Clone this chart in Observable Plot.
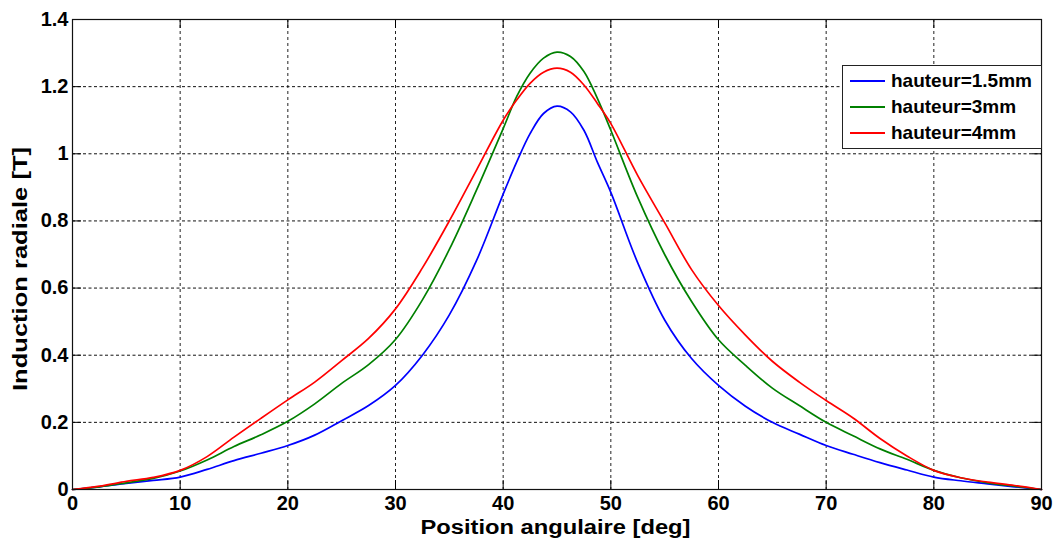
<!DOCTYPE html>
<html>
<head>
<meta charset="utf-8">
<script src="https://cdn.jsdelivr.net/npm/d3@7"></script>
<script src="https://cdn.jsdelivr.net/npm/@observablehq/plot@0.6"></script>
<style>
  body { margin: 0; background: #fff; }
  #wrap { position: relative; width: 1057px; height: 542px; font-family: "Liberation Sans", Arial, sans-serif; }
  #legend { position: absolute; left: 842px; top: 65px; width: 200px; height: 84px; background: #fff;
            border: 1px solid #222; box-sizing: border-box; }
  .row { position: absolute; left: 0; height: 26px; display: flex; align-items: center; }
  .swatch { width: 35px; height: 0; border-top: 2px solid; margin-left: 7px; margin-right: 6px; }
  .lab { font-weight: bold; font-size: 19px; color: #000; white-space: nowrap; }
</style>
</head>
<body>
<div id="wrap"></div>
<script>
// ---- data ----
const angles = [0, 2.5, 5, 7.5, 10, 12.5, 15, 17.5, 20, 22.5, 25, 27.5, 30, 32.5, 35, 37.5, 40, 41.25, 42.5, 43.75, 45,
                46.25, 47.5, 48.75, 50, 52.5, 55, 57.5, 60, 62.5, 65, 67.5, 70, 72.5, 75, 77.5, 80, 82.5, 85, 87.5, 90];
const h15 = [0, 0.008, 0.018, 0.027, 0.037, 0.060, 0.086, 0.108, 0.131, 0.162, 0.205, 0.250, 0.310, 0.400, 0.520, 0.680, 0.880, 0.975, 1.060, 1.120, 1.142,
             1.125, 1.070, 0.975, 0.885, 0.675, 0.505, 0.390, 0.310, 0.248, 0.200, 0.165, 0.131, 0.105, 0.080, 0.058, 0.037, 0.026, 0.017, 0.008, 0];
const h3  = [0, 0.008, 0.020, 0.033, 0.055, 0.088, 0.128, 0.163, 0.203, 0.255, 0.316, 0.372, 0.447, 0.565, 0.715, 0.890, 1.075, 1.170, 1.240, 1.285, 1.303,
             1.290, 1.245, 1.165, 1.070, 0.870, 0.700, 0.560, 0.446, 0.370, 0.302, 0.250, 0.200, 0.160, 0.121, 0.090, 0.057, 0.035, 0.020, 0.010, 0];
const h4  = [0, 0.010, 0.024, 0.036, 0.057, 0.098, 0.156, 0.212, 0.267, 0.320, 0.384, 0.450, 0.538, 0.660, 0.800, 0.950, 1.100, 1.160, 1.210, 1.243, 1.255,
             1.243, 1.205, 1.150, 1.090, 0.935, 0.795, 0.655, 0.548, 0.460, 0.382, 0.320, 0.265, 0.213, 0.152, 0.100, 0.057, 0.035, 0.022, 0.012, 0];
const seriesNames = ["hauteur=1.5mm", "hauteur=3mm", "hauteur=4mm"];
const seriesColors = ["#0000ff", "#008000", "#ff0000"];
const xTicks = [0, 10, 20, 30, 40, 50, 60, 70, 80, 90];
const yTicks = [0, 0.2, 0.4, 0.6, 0.8, 1, 1.2, 1.4];
const yTickLabels = ["0", "0.2", "0.4", "0.6", "0.8", "1", "1.2", "1.4"];
const xLabel = "Position angulaire [deg]";
const yLabel = "Induction radiale [T]";

// ---- build table ----
const allSeries = [h15, h3, h4];
const rows = [];
allSeries.forEach((vals, s) => vals.forEach((v, i) => rows.push({x: angles[i], y: v, s: seriesNames[s]})));

const W = 1057, H = 542, mL = 72, mR = 16, mT = 19, mB = 53;
const pw = W - mL - mR, ph = H - mT - mB;
const tk = 9;

const svg = Plot.plot({
  width: W, height: H,
  marginLeft: mL, marginRight: mR, marginTop: mT, marginBottom: mB,
  style: {fontFamily: "'Liberation Sans', Arial, sans-serif", fontSize: "20px", fontWeight: "bold", color: "#000", background: "#fff", overflow: "visible"},
  x: {domain: [0, 90]},
  y: {domain: [0, 1.4]},
  color: {domain: seriesNames, range: seriesColors},
  marks: [
    Plot.gridX(xTicks.slice(1, -1), {stroke: "#222", strokeOpacity: 1, strokeWidth: 1, strokeDasharray: "3,3"}),
    Plot.gridY(yTicks.slice(1, -1), {stroke: "#111", strokeOpacity: 1, strokeWidth: 1, strokeDasharray: "3,2.5"}),
    Plot.tickX(xTicks, {x: d => d, insetTop: ph - tk, stroke: "#000"}),
    Plot.tickX(xTicks, {x: d => d, insetBottom: ph - tk, stroke: "#000"}),
    Plot.tickY(yTicks, {y: d => d, insetRight: pw - tk, stroke: "#000"}),
    Plot.tickY(yTicks, {y: d => d, insetLeft: pw - tk, stroke: "#000"}),
    Plot.line(rows, {x: "x", y: "y", z: "s", stroke: "s", strokeWidth: 1.7, curve: "catmull-rom"}),
    Plot.frame({stroke: "#111", strokeWidth: 1.2}),
    Plot.axisX({ticks: xTicks, tickSize: 0, tickPadding: 6, label: null, fontWeight: "bold", fontSize: 20}),
    Plot.axisY({ticks: yTicks, tickSize: 0, tickPadding: 4, label: null, fontWeight: "bold", fontSize: 20,
                tickFormat: d => yTickLabels[yTicks.indexOf(d)]})
  ]
});

const s = d3.select(svg);
s.append("text")
  .attr("x", (mL + W - mR) / 2 - 1).attr("y", 534)
  .attr("text-anchor", "middle")
  .attr("font-size", 20).attr("font-weight", "bold").attr("fill", "#000")
  .attr("textLength", 270).attr("lengthAdjust", "spacingAndGlyphs")
  .text(xLabel);
s.append("text")
  .attr("transform", "translate(27,269) rotate(-90)")
  .attr("text-anchor", "middle")
  .attr("font-size", 21).attr("font-weight", "bold").attr("fill", "#000")
  .attr("textLength", 244).attr("lengthAdjust", "spacingAndGlyphs")
  .text(yLabel);

const wrap = document.getElementById("wrap");
wrap.appendChild(svg);

// legend (inside the axes, top-right, MATLAB style)
const leg = document.createElement("div");
leg.id = "legend";
seriesNames.forEach((n, i) => {
  const r = document.createElement("div");
  r.className = "row";
  r.style.top = (2 + i * 26) + "px";
  const sw = document.createElement("div");
  sw.className = "swatch";
  sw.style.borderTopColor = seriesColors[i];
  const t = document.createElement("span");
  t.className = "lab";
  t.textContent = n;
  r.appendChild(sw); r.appendChild(t);
  leg.appendChild(r);
});
wrap.appendChild(leg);
</script>
</body>
</html>
